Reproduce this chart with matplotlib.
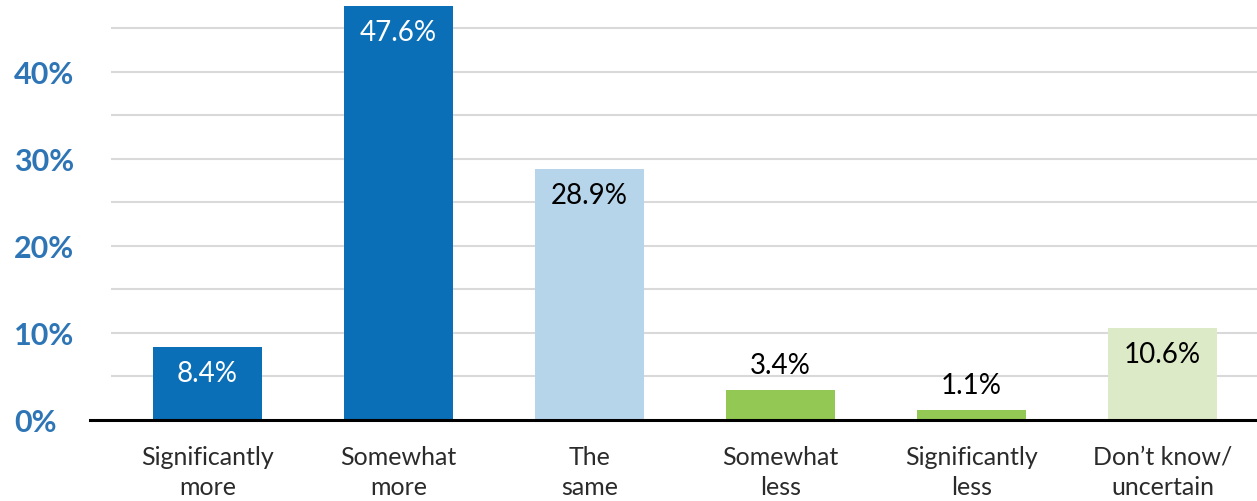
import matplotlib.pyplot as plt

categories = ["Significantly\nmore", "Somewhat\nmore", "The\nsame",
              "Somewhat\nless", "Significantly\nless", "Don\u2019t know/\nuncertain"]
values = [8.4, 47.6, 28.9, 3.4, 1.1, 10.6]
bar_colors = ["#0b6fb8", "#0b6fb8", "#b6d4ea", "#92c853", "#92c853", "#ddeac7"]
label_colors = ["white", "white", "black", "black", "black", "black"]
label_inside = [True, True, True, False, False, True]
y_ticks = [0, 10, 20, 30, 40]
y_tick_labels = ["0%", "10%", "20%", "30%", "40%"]

plt.rcParams['font.family'] = ['Lato', 'DejaVu Sans']

fig = plt.figure(figsize=(12.57, 5.02), dpi=100)
ax = fig.add_axes([111 / 1257, 81 / 502, 1146 / 1257, 421 / 502])

x = list(range(len(categories)))
ax.bar(x, values, width=0.57, color=bar_colors, zorder=2)

ax.set_xlim(-0.505, 5.495)
ax.set_ylim(0, 48.39)

# light gridlines every 5%
for g in range(5, 50, 5):
    ax.axhline(g, color="#d9d9d9", lw=1.5, zorder=1)
ax.axhline(0, xmin=-0.0183, xmax=1, color="black", lw=2.2, zorder=3, clip_on=False)

for xi, v, c, inside in zip(x, values, label_colors, label_inside):
    if inside:
        ax.annotate(f"{v}%", (xi, v), xytext=(0, -19), textcoords="offset points",
                    ha="center", va="center", color=c, fontsize=20)
    else:
        ax.annotate(f"{v}%", (xi, v), xytext=(0, 9), textcoords="offset points",
                    ha="center", va="bottom", color=c, fontsize=20)

ax.set_yticks(y_ticks)
ax.set_yticklabels(y_tick_labels, fontsize=22, fontweight="bold", color="#2e75b6")
ax.tick_params(axis="y", length=0, pad=69.8)
for lab in ax.get_yticklabels():
    lab.set_horizontalalignment("left")

ax.set_xticks(x)
ax.set_xticklabels(categories, fontsize=18, fontweight="normal", color="#2b2b2b",
                   linespacing=1.38)
ax.tick_params(axis="x", length=0, pad=18)

for s in ax.spines.values():
    s.set_visible(False)

fig.savefig("out.png", dpi=100)
